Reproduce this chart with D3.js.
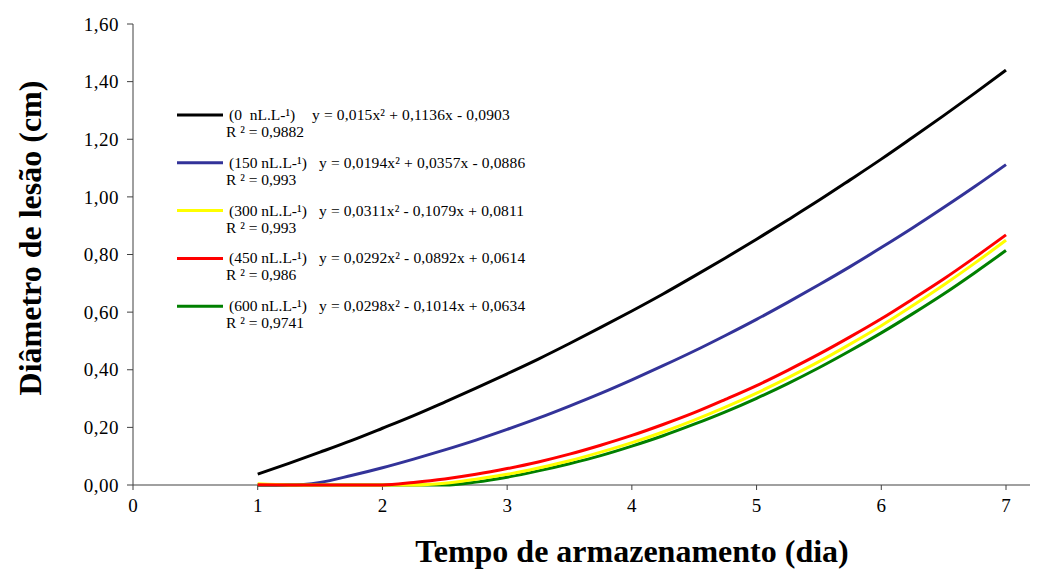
<!DOCTYPE html>
<html><head><meta charset="utf-8">
<script src="https://cdn.jsdelivr.net/npm/d3@7"></script>
<style>body{margin:0;background:#fff}svg{display:block;font-family:"Liberation Serif","Times New Roman",serif}</style>
</head><body><svg id="c" width="1054" height="572"></svg>
<script>
const days = [1,1.25,1.5,1.75,2,2.25,2.5,2.75,3,3.25,3.5,3.75,4,4.25,4.5,4.75,5,5.25,5.5,5.75,6,6.25,6.5,6.75,7];
const s0   = [0.038,0.075,0.114,0.154,0.197,0.241,0.288,0.336,0.386,0.437,0.491,0.547,0.604,0.663,0.725,0.788,0.853,0.920,0.988,1.059,1.131,1.206,1.282,1.360,1.440];
const s150 = [0,0,0.009,0.033,0.060,0.090,0.122,0.156,0.193,0.232,0.274,0.318,0.365,0.414,0.465,0.519,0.575,0.634,0.695,0.758,0.824,0.892,0.963,1.036,1.112];
const s300 = [0.004,0,0,0,0,0,0.006,0.020,0.037,0.059,0.084,0.114,0.147,0.184,0.225,0.270,0.319,0.372,0.428,0.489,0.553,0.622,0.694,0.770,0.850];
const s450 = [0.001,0,0,0,0,0.009,0.021,0.037,0.057,0.080,0.107,0.138,0.172,0.210,0.251,0.297,0.345,0.398,0.454,0.514,0.577,0.645,0.715,0.790,0.868];
const s600 = [0,0,0,0,0,0,0,0.010,0.027,0.049,0.074,0.102,0.135,0.171,0.211,0.254,0.301,0.352,0.407,0.466,0.528,0.594,0.663,0.737,0.814];
const xTicks = [0,1,2,3,4,5,6,7];
const yTicks = [0,0.2,0.4,0.6,0.8,1.0,1.2,1.4,1.6];
const seriesNames = ["(0\u00a0\u00a0nL.L-\u00b9)","(150 nL.L-\u00b9)","(300 nL.L-\u00b9)","(450 nL.L-\u00b9)","(600 nL.L-\u00b9)"];
const equations = ["y = 0,015x\u00b2 + 0,1136x - 0,0903","y = 0,0194x\u00b2 + 0,0357x - 0,0886","y = 0,0311x\u00b2 - 0,1079x + 0,0811","y = 0,0292x\u00b2 - 0,0892x + 0,0614","y = 0,0298x\u00b2 - 0,1014x + 0,0634"];
const r2 = ["R \u00b2 = 0,9882","R \u00b2 = 0,993","R \u00b2 = 0,993","R \u00b2 = 0,986","R \u00b2 = 0,9741"];
const colors = ["#000000","#333399","#ffff00","#ff0000","#008000"];
const values = [s0,s150,s300,s450,s600];
const drawOrder = [0,1,4,2,3];

const svg = d3.select("#c");
const x = d3.scaleLinear().domain([0,7]).range([133,1006]);
const y = d3.scaleLinear().domain([0,1.6]).range([485,24]);

// axes
svg.append("line").attr("x1",133).attr("x2",1030).attr("y1",y(0)).attr("y2",y(0)).attr("stroke","#808080").attr("stroke-width",1.5);
svg.append("line").attr("x1",133).attr("x2",133).attr("y1",y(0)).attr("y2",y(1.6)).attr("stroke","#404040").attr("stroke-width",1);
svg.selectAll(".yt").data(yTicks).enter().append("line").attr("x1",127).attr("x2",133).attr("y1",d=>y(d)).attr("y2",d=>y(d)).attr("stroke","#404040");
svg.selectAll(".yl").data(yTicks).enter().append("text").attr("x",119).attr("y",d=>y(d)).attr("dy","0.35em").attr("text-anchor","end").attr("font-size",19).attr("letter-spacing",0.5).text(d=>d.toFixed(2).replace(".",","));
svg.selectAll(".xt").data(xTicks).enter().append("line").attr("x1",d=>x(d)).attr("x2",d=>x(d)).attr("y1",y(0)).attr("y2",y(0)+5).attr("stroke","#404040");
svg.selectAll(".xl").data(xTicks).enter().append("text").attr("x",d=>x(d)).attr("y",512).attr("text-anchor","middle").attr("font-size",19).text(d=>d);

// lines
const line = d3.line().x((d,i)=>x(days[i])).y(d=>y(d)).curve(d3.curveMonotoneX);
drawOrder.forEach(k=>{
  svg.append("path").datum(values[k]).attr("d",line).attr("fill","none").attr("stroke",colors[k]).attr("stroke-width",3);
});

// legend
const lg = svg.append("g");
seriesNames.forEach((n,i)=>{
  const cy = 115 + i*47.8;
  lg.append("line").attr("x1",177).attr("x2",223).attr("y1",cy).attr("y2",cy).attr("stroke",colors[i]).attr("stroke-width",3);
  lg.append("text").attr("x",229).attr("y",cy+5).attr("font-size",15.5).text(n);
  lg.append("text").attr("x",i===0?312:319).attr("y",cy+5).attr("font-size",15.5).attr("letter-spacing",0.15).text(equations[i]);
  lg.append("text").attr("x",226).attr("y",cy+22).attr("font-size",15.5).text(r2[i]);
});

// titles
svg.append("text").attr("x",632).attr("y",562).attr("text-anchor","middle").attr("font-size",32).attr("font-weight","bold").text("Tempo de armazenamento (dia)");
svg.append("text").attr("transform","translate(41,238) rotate(-90)").attr("text-anchor","middle").attr("font-size",32).attr("font-weight","bold").text("Diâmetro de lesão (cm)");
</script></body></html>
